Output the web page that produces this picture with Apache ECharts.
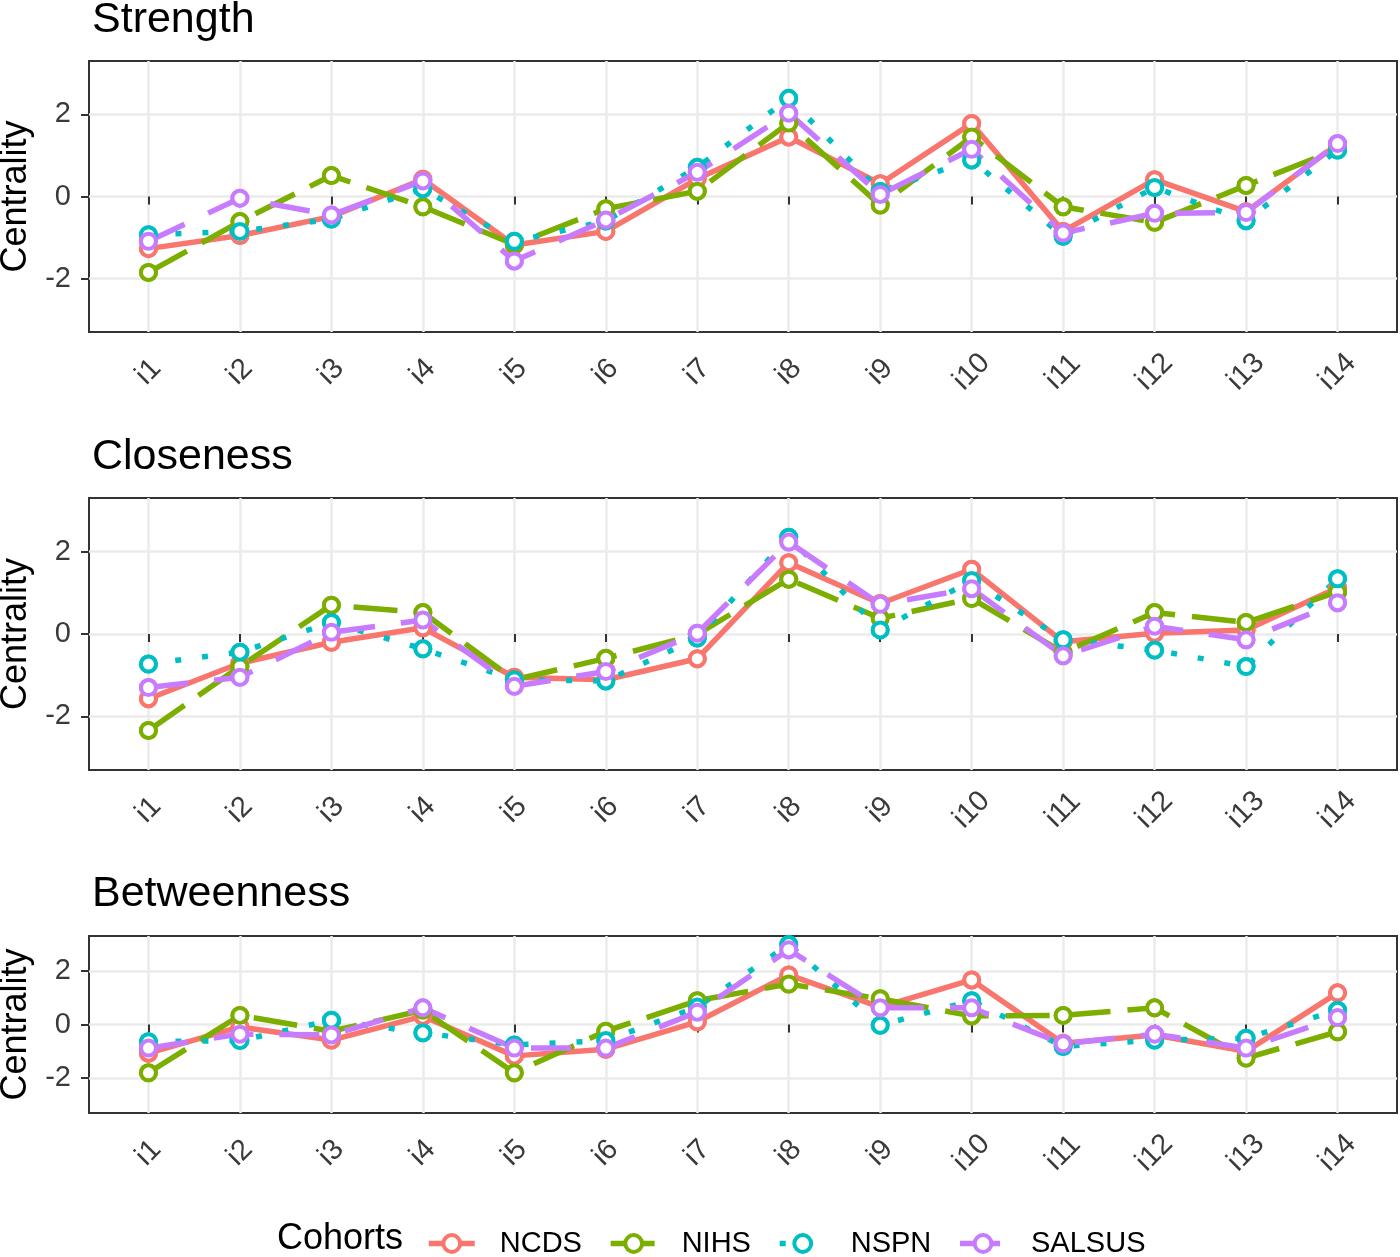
<!DOCTYPE html>
<html>
<head>
<meta charset="utf-8">
<script src="https://cdn.jsdelivr.net/npm/echarts@6/dist/echarts.min.js"></script>
<style>
html,body{margin:0;padding:0;background:#fff;}
#chart{width:1400px;height:1257px;}
</style>
</head>
<body>
<div id="chart"></div>
<script>
// ---- data ----
var categories = ['i1','i2','i3','i4','i5','i6','i7','i8','i9','i10','i11','i12','i13','i14'];
var cohorts = ['NCDS','NIHS','NSPN','SALSUS'];
var panelTitles = ['Strength','Closeness','Betweenness'];
var yTicks = [-2, 0, 2];

var strength_NCDS   = [-1.27,-0.95,-0.49, 0.42,-1.18,-0.85, 0.43, 1.45, 0.31, 1.78,-0.85, 0.41,-0.37, 1.27];
var strength_NIHS   = [-1.85,-0.61, 0.51,-0.25,-1.17,-0.30, 0.13, 1.79,-0.21, 1.45,-0.25,-0.63, 0.27, 1.15];
var strength_NSPN   = [-0.93,-0.85,-0.55, 0.19,-1.09,-0.60, 0.71, 2.39, 0.13, 0.89,-0.97, 0.22,-0.59, 1.13];
var strength_SALSUS = [-1.09,-0.04,-0.45, 0.38,-1.57,-0.57, 0.59, 2.03, 0.05, 1.15,-0.89,-0.41,-0.39, 1.29];

var closeness_NCDS   = [-1.57,-0.71,-0.20, 0.15,-1.05,-1.11,-0.60, 1.73, 0.74, 1.57,-0.19, 0.02, 0.10, 1.12];
var closeness_NIHS   = [-2.34,-0.79, 0.70, 0.52,-1.11,-0.59,-0.01, 1.33, 0.38, 0.86,-0.45, 0.52, 0.28, 1.02];
var closeness_NSPN   = [-0.73,-0.44, 0.28,-0.36,-1.11,-1.14,-0.10, 2.35, 0.10, 1.30,-0.14,-0.39,-0.79, 1.34];
var closeness_SALSUS = [-1.30,-1.05, 0.04, 0.34,-1.27,-0.91, 0.02, 2.23, 0.72, 1.10,-0.53, 0.19,-0.14, 0.76];

var betweenness_NCDS   = [-1.07,-0.09,-0.58, 0.31,-1.17,-0.92, 0.10, 1.85, 0.65, 1.66,-0.70,-0.39,-1.00, 1.18];
var betweenness_NIHS   = [-1.80, 0.34,-0.25, 0.53,-1.80,-0.25, 0.89, 1.51, 0.96, 0.32, 0.34, 0.62,-1.25,-0.27];
var betweenness_NSPN   = [-0.64,-0.60, 0.16,-0.31,-0.76,-0.60, 0.65, 2.98,-0.03, 0.89,-0.82,-0.58,-0.51, 0.53];
var betweenness_SALSUS = [-0.88,-0.36,-0.39, 0.62,-0.88,-0.88, 0.46, 2.79, 0.62, 0.62,-0.72,-0.36,-0.88, 0.26];

var panelData = [
  [strength_NCDS, strength_NIHS, strength_NSPN, strength_SALSUS],
  [closeness_NCDS, closeness_NIHS, closeness_NSPN, closeness_SALSUS],
  [betweenness_NCDS, betweenness_NIHS, betweenness_NSPN, betweenness_SALSUS]
];

// ---- styles ----
var FONT = '"Liberation Sans", Arial, Helvetica, sans-serif';
var colors = ['#F8766D','#7CAE00','#00BFC4','#C77CFF'];
var dashes = ['solid',[44,17],[6,21],[40,26]];
var LW = 5.5;
var SYM = 15;
var grids = [
  {left:89, top:61, right:3, height:271},
  {left:89, top:498, right:3, height:272},
  {left:89, top:936, right:3, height:177}
];
var titleTops = [-6, 431, 868];
var xTickVals = categories.map(function(c,i){return i+1;});

var option = {
  backgroundColor:'#fff',
  animation:false,
  textStyle:{fontFamily:FONT},
  title: panelTitles.map(function(t,i){
    return {text:t, left:87, top:titleTops[i], textStyle:{fontSize:43, fontWeight:'normal', color:'#000', fontFamily:FONT}};
  }).concat([{text:'Cohorts', left:272, top:1216, textStyle:{fontSize:36, fontWeight:'normal', color:'#000', fontFamily:FONT}}]),
  legend:{
    data:cohorts.map(function(c,i){
      return {name:c, lineStyle:{color:colors[i], width:LW, type:dashes[i]},
              itemStyle:{color:'#fff', borderColor:colors[i], borderWidth:4}};
    }),
    left:421, top:1224, itemWidth:46, itemHeight:21, itemGap:26,
    textStyle:{fontSize:29, color:'#000', fontFamily:FONT, padding:[0,0,0,20]}
  },
  grid: grids.map(function(g){
    return {left:g.left, top:g.top, right:g.right, height:g.height, show:true, borderColor:'#333', borderWidth:2,
            backgroundColor:'#fff', containLabel:false, outerBoundsMode:'none'};
  }),
  xAxis: grids.map(function(g,i){
    return {
      type:'value', gridIndex:i, min:0.35, max:14.65,
      axisLine:{show:false},
      axisTick:{show:true, length:8, lineStyle:{color:'#333', width:2}, customValues:xTickVals},
      axisLabel:{show:true, customValues:xTickVals, rotate:45, align:'center', verticalAlign:'middle', margin:40,
        fontSize:29, color:'#3a3a3a', fontFamily:FONT,
        formatter:function(v){return categories[Math.round(v)-1];}},
      splitLine:{show:true, lineStyle:{color:'#EBEBEB', width:2.5}}
    };
  }),
  yAxis: grids.map(function(g,i){
    return {
      type:'value', gridIndex:i, min:-3.3, max:3.3,
      name:'Centrality', nameLocation:'middle', nameGap:48,
      nameTextStyle:{fontSize:36, color:'#000', fontFamily:FONT},
      axisLine:{show:false},
      axisTick:{show:true, length:8, lineStyle:{color:'#333', width:2}, customValues:yTicks},
      axisLabel:{show:true, customValues:yTicks, margin:18, fontSize:29, color:'#3a3a3a', fontFamily:FONT},
      splitLine:{show:true, lineStyle:{color:'#EBEBEB', width:2.5}}
    };
  }),
  series:[]
};

panelData.forEach(function(arrs, p){
  arrs.forEach(function(vals, s){
    var pts = vals.map(function(v,k){return [k+1, v];});
    option.series.push({
      type:'line', name:cohorts[s], xAxisIndex:p, yAxisIndex:p, data:pts, z:2,
      symbol:'circle', symbolSize:SYM, showSymbol:true,
      lineStyle:{color:colors[s], width:LW, type:dashes[s], cap:'butt'},
      itemStyle:{color:'#fff', borderColor:colors[s], borderWidth:4},
      emphasis:{disabled:true}
    });
  });
});
panelData.forEach(function(arrs, p){
  arrs.forEach(function(vals, s){
    var pts = vals.map(function(v,k){return [k+1, v];});
    option.series.push({
      type:'scatter', name:cohorts[s], xAxisIndex:p, yAxisIndex:p, data:pts, z:5,
      symbol:'circle', symbolSize:SYM,
      itemStyle:{color:'#fff', borderColor:colors[s], borderWidth:4, opacity:1},
      emphasis:{disabled:true}
    });
  });
});

var chart = echarts.init(document.getElementById('chart'), null, {renderer:'canvas'});
chart.setOption(option);
</script>
</body>
</html>
